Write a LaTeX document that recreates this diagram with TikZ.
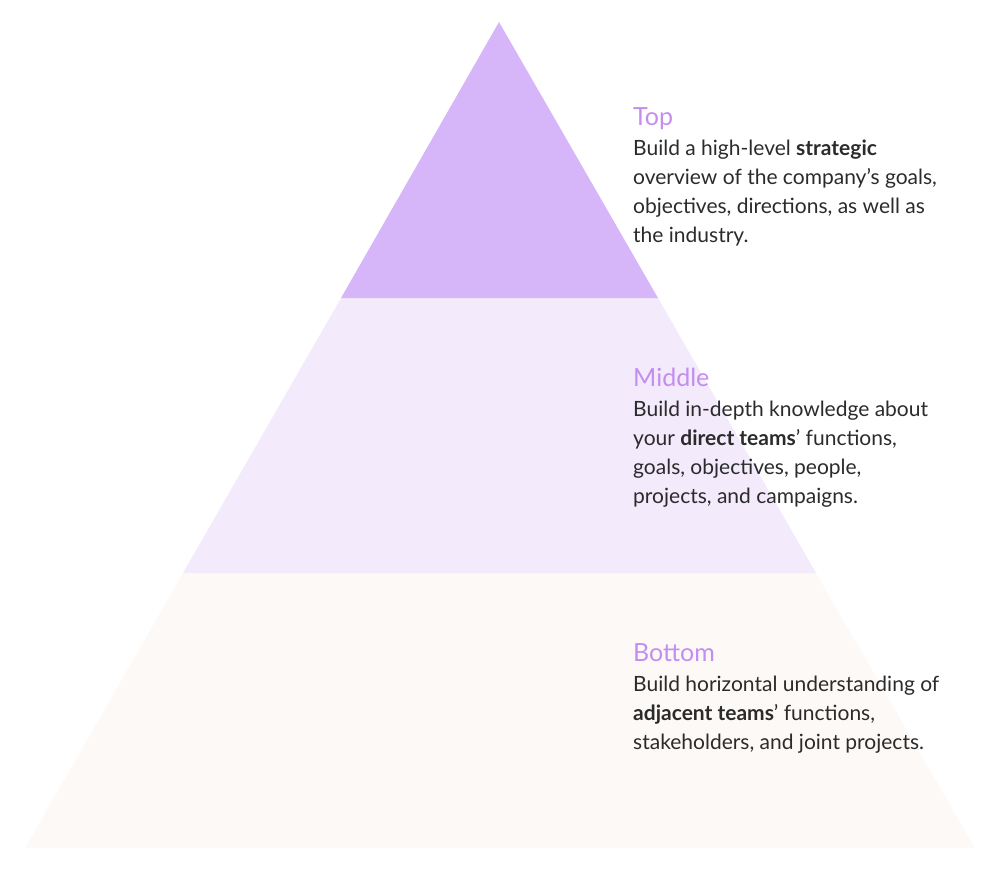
\documentclass[tikz,border=0pt]{standalone}
\usepackage{fontspec}
\setmainfont{Lato}
\usepackage{tikz}
\usetikzlibrary{positioning}
\definecolor{topfill}{HTML}{D6B6F8}
\definecolor{midfill}{HTML}{F3EAFC}
\definecolor{lowfill}{HTML}{FDF9F6}
\definecolor{tiername}{HTML}{C48DF0}
\definecolor{bodytext}{HTML}{2B2B2B}
\tikzset{
  tiertitle/.style={anchor=base west, inner sep=0pt, text=tiername,
    font=\fontsize{25}{30}\selectfont},
  tierbody/.style={anchor=north west, inner sep=0pt, align=left, text=bodytext,
    font=\fontsize{21}{29}\selectfont}
}
\begin{document}
\begin{tikzpicture}[x=1pt,y=-1pt]
    \useasboundingbox (0,0) rectangle (1000,889);

    % Вершина і основа піраміди
    \coordinate (apex) at (499,22);
    \coordinate (BL) at (25,848);
    \coordinate (BR) at (975,848);

    % Межі ярусів
    \coordinate (L1) at (341,298);
    \coordinate (R1) at (658,298);
    \coordinate (L2) at (183,573);
    \coordinate (R2) at (816,573);

    % Яруси
    \fill[lowfill] (L2) -- (R2) -- (BR) -- (BL) -- cycle;
    \fill[midfill] (L1) -- (R1) -- (R2) -- (L2) -- cycle;
    \fill[topfill] (apex) -- (R1) -- (L1) -- cycle;

    % Підписи
    \node[tiertitle] (toptitle) at (633,125) {Top};
    \node[tierbody] (topbody) at (633,140) {Build a high-level \textbf{strategic}\\
      overview of the company’s goals,\\objectives, directions, as well as\\the industry.};

    \node[tiertitle] (midtitle) at (633,386) {Middle};
    \node[tierbody] (midbody) at (633,401) {Build in-depth knowledge about\\
      your \textbf{direct teams}’ functions,\\goals, objectives, people,\\projects, and campaigns.};

    \node[tiertitle] (lowtitle) at (633,661) {Bottom};
    \node[tierbody] (lowbody) at (633,676) {Build horizontal understanding of\\
      \textbf{adjacent teams}’ functions,\\stakeholders, and joint projects.};
\end{tikzpicture}
\end{document}
